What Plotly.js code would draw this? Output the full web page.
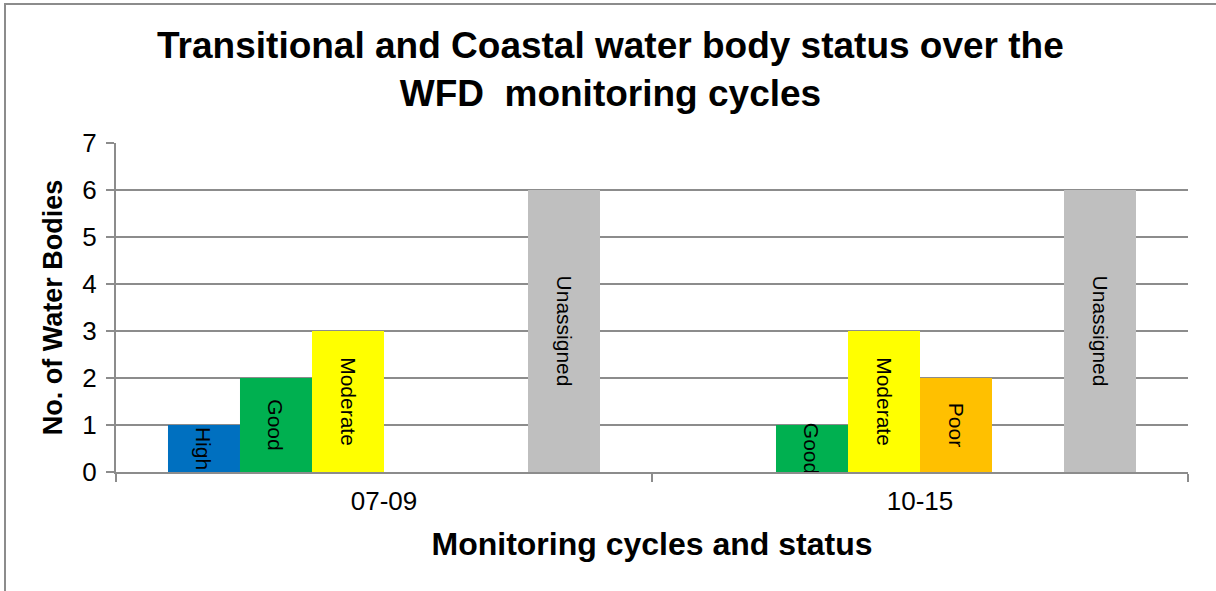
<!DOCTYPE html>
<html>
<head>
<meta charset="utf-8">
<script src="https://cdn.plot.ly/plotly-3.0.1.min.js"></script>
<style>
  html, body { margin: 0; padding: 0; background: #ffffff; overflow: hidden; }
  #wrap { position: relative; width: 1216px; height: 591px; overflow: hidden; }
  #chart { position: absolute; left: 0; top: 0; width: 1216px; height: 591px; }
  #frame { position: absolute; left: 4px; top: 3px; width: 1220px; height: 600px;
           border-left: 2px solid #8c8c8c; border-top: 2px solid #8c8c8c; pointer-events: none; }
</style>
</head>
<body>
<div id="wrap">
  <div id="chart"></div>
  <div id="frame"></div>
</div>
<script>
// Categories (monitoring cycles)
const categories = ['07-09', '10-15'];

// Status series (number of water bodies per cycle)
const seriesNames = ['High', 'Good', 'Moderate', 'Poor', 'Bad', 'Unassigned'];
const high       = [1, 0];
const good       = [2, 1];
const moderate   = [3, 3];
const poor       = [0, 2];
const bad        = [0, 0];
const unassigned = [6, 6];

const seriesValues = [high, good, moderate, poor, bad, unassigned];
const seriesColors = ['#0070C0', '#00B050', '#FFFF00', '#FFC000', '#FF0000', '#BFBFBF'];

const FONT = '"Liberation Sans", Arial, sans-serif';

const traces = seriesNames.map((name, i) => ({
  type: 'bar',
  name: name,
  x: categories,
  y: seriesValues[i],
  marker: { color: seriesColors[i], line: { width: 0 } },
  text: seriesValues[i].map(v => v > 0 ? name : ''),
  textposition: 'inside',
  insidetextanchor: 'middle',
  textangle: 90,
  constraintext: 'none',
  cliponaxis: false,
  textfont: { family: FONT, size: 21, color: '#000000' },
  hoverinfo: 'x+y+name'
}));

const layout = {
  width: 1216,
  height: 591,
  paper_bgcolor: '#ffffff',
  plot_bgcolor: '#ffffff',
  showlegend: false,
  barmode: 'group',
  bargap: 0.194,
  bargroupgap: 0,
  margin: { l: 116, r: 28, t: 143, b: 119 },
  font: { family: FONT, color: '#000000' },
  title: {
    text: '<b>Transitional and Coastal water body status over the<br>WFD  monitoring cycles</b>',
    font: { family: FONT, size: 37, color: '#000000' },
    x: 0.502,
    xanchor: 'center',
    xref: 'container',
    y: 0.902,
    yanchor: 'middle',
    yref: 'container'
  },
  xaxis: {
    type: 'category',
    showgrid: false,
    showline: true,
    linecolor: '#8c8c8c',
    linewidth: 2,
    ticks: 'outside',
    tickson: 'boundaries',
    ticklen: 8,
    tickwidth: 2,
    tickcolor: '#8c8c8c',
    ticklabelstandoff: 5,
    tickfont: { family: FONT, size: 26, color: '#000000' },
    title: {
      text: '<b>Monitoring cycles and status</b>',
      font: { family: FONT, size: 32, color: '#000000' },
      standoff: 17
    },
    automargin: false,
    fixedrange: true
  },
  yaxis: {
    range: [0, 7],
    dtick: 1,
    tick0: 0,
    showgrid: true,
    gridcolor: '#8c8c8c',
    gridwidth: 2,
    zeroline: false,
    showline: true,
    linecolor: '#8c8c8c',
    linewidth: 2,
    ticks: 'outside',
    ticklen: 8,
    tickwidth: 2,
    tickcolor: '#8c8c8c',
    ticklabelstandoff: 4,
    tickfont: { family: FONT, size: 26, color: '#000000' },
    title: {
      text: '<b>No. of Water Bodies</b>',
      font: { family: FONT, size: 27, color: '#000000' },
      standoff: 12
    },
    automargin: false,
    fixedrange: true
  }
};

Plotly.newPlot('chart', traces, layout, { displayModeBar: false, staticPlot: true });
</script>
</body>
</html>
